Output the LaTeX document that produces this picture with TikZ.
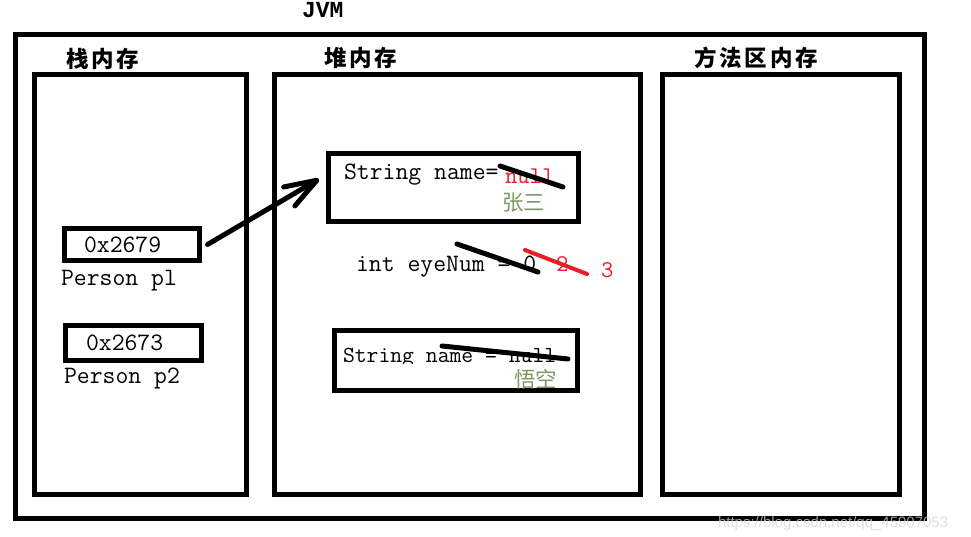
\documentclass[tikz,border=0pt]{standalone}
\usepackage{fontspec}
\usetikzlibrary{arrows.meta}
\newfontfamily\cjk{Noto Sans CJK SC}
\newfontfamily\cjklabel[LetterSpace=13]{Noto Sans CJK SC}
\newfontfamily\wmfont{Liberation Sans}
\newfontfamily\jvmfont{Liberation Mono}
\definecolor{redink}{RGB}{237,28,36}
\definecolor{olivetext}{RGB}{128,150,100}
\definecolor{wmgray}{RGB}{215,215,215}
\begin{document}
\begin{tikzpicture}[x=1pt,y=-1pt,
  frame/.style={draw, line width=5pt, inner sep=0pt, outer sep=0pt},
  txt/.style={anchor=base west, inner sep=0pt, outer sep=0pt},
  code/.style={txt, font=\fontsize{25}{28}\ttfamily},
  codesm/.style={txt, font=\fontsize{23}{26}\ttfamily},
  redcode/.style={txt, font=\fontsize{24}{26}\ttfamily, text=redink},
  title/.style={txt, font=\fontsize{22.5}{26}\cjklabel\bfseries},
  cname/.style={txt, font=\fontsize{21.5}{24}\cjk, text=olivetext},
  strike/.style={line width=5pt, line cap=round},
  redstrike/.style={strike, draw=redink, line width=4pt},
  pointer/.style={line width=5pt, line cap=round, line join=round,
    -{Straight Barb[length=32pt,width=22pt,line cap=round,line join=round]}}]
\useasboundingbox (0,0) rectangle (971,537);
\fill[white] (0,0) rectangle (971,537);
% frames
\node[frame, minimum width=909pt, minimum height=483.5pt] (jvm) at (470,276.25) {};
\node[frame, minimum width=212pt, minimum height=419pt] (stack) at (140.5,284.5) {};
\node[frame, minimum width=365.5pt, minimum height=419pt] (heap) at (457.25,284.5) {};
\node[frame, minimum width=237.5pt, minimum height=419pt] (method) at (780.75,284.5) {};
\node[frame, minimum width=135pt, minimum height=32pt] (p1) at (132,244.5) {};
\node[frame, minimum width=136pt, minimum height=35pt] (p2) at (133.5,343) {};
\node[frame, minimum width=250pt, minimum height=68.5pt] (h1) at (453.5,187.75) {};
\node[frame, minimum width=243pt, minimum height=60pt] (h2) at (456,360.5) {};
% titles
\node[txt, font=\fontsize{23}{26}\jvmfont\bfseries] (tjvm) at (302,18) {JVM};
\node[title] (tstack) at (66,68) {栈内存};
\node[title] (theap) at (324,67) {堆内存};
\node[title] (tmethod) at (694,67) {方法区内存};
% stack contents
\node[code] (a1) at (84,252) {0x2679};
\node[code] (n1) at (61,285) {Person pl};
\node[code] (a2) at (86,350) {0x2673};
\node[code] (n2) at (64,383) {Person p2};
% heap object 1
\node[code] (s1) at (344,180) {String name=};
\node[redcode] (null1) at (505,184) {null};
\node[cname] (zs) at (502,211) {张三};
\draw[strike] (500,166) -- (563,187);
% eyeNum
\node[code] (eye) at (356,271) {int eyeNum = 0};
\node[redcode] (two) at (556,272) {2};
\node[redcode] (three) at (601,277) {3};
\draw[strike] (457,244) -- (538,272);
\draw[redstrike] (525,250) -- (587,274);
% heap object 2
\begin{scope}
\clip (336,335) rectangle (575,363);
\node[codesm] (s2) at (343,362) {String name = null};
\end{scope}
\node[cname] (wk) at (514,387) {悟空};
\draw[strike] (442,346) -- (568,359);
% pointer
\draw[pointer] ([xshift=8pt]p1.east) -- ([xshift=-9.5pt,yshift=8.75pt]h1.west);
% watermark
\node[txt, font=\fontsize{15}{18}\wmfont, text=wmgray, opacity=0.75] (wm) at (718,527) {https://blog.csdn.net/qq\_45907053};
\end{tikzpicture}
\end{document}
